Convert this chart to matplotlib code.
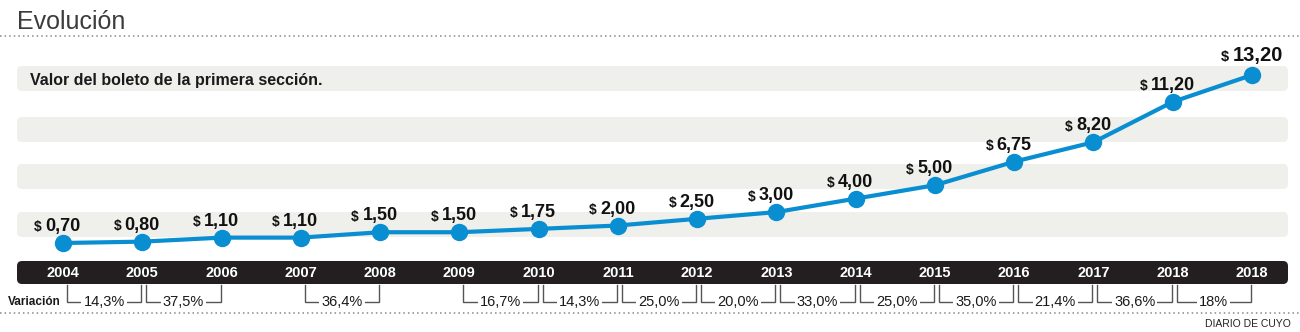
import matplotlib
matplotlib.use('Agg')
import matplotlib.pyplot as plt
from matplotlib.patches import FancyBboxPatch
from matplotlib.transforms import blended_transform_factory

# data
years = ['2004', '2005', '2006', '2007', '2008', '2009', '2010', '2011',
         '2012', '2013', '2014', '2015', '2016', '2017', '2018', '2018']
values = [0.70, 0.80, 1.10, 1.10, 1.50, 1.50, 1.75, 2.00,
          2.50, 3.00, 4.00, 5.00, 6.75, 8.20, 11.20, 13.20]
value_labels = ['0,70', '0,80', '1,10', '1,10', '1,50', '1,50', '1,75', '2,00',
                '2,50', '3,00', '4,00', '5,00', '6,75', '8,20', '11,20', '13,20']
# (from index, to index, label)
variations = [(0, 1, '14,3%'), (1, 2, '37,5%'), (3, 4, '36,4%'),
              (5, 6, '16,7%'), (6, 7, '14,3%'), (7, 8, '25,0%'),
              (8, 9, '20,0%'), (9, 10, '33,0%'), (10, 11, '25,0%'),
              (11, 12, '35,0%'), (12, 13, '21,4%'), (13, 14, '36,6%'),
              (14, 15, '18%')]

W, H = 1300, 332
BOLD = ['Liberation Sans', 'DejaVu Sans']
NARROW = ['Liberation Sans Narrow', 'Liberation Sans', 'DejaVu Sans']
BLUE = '#0a8ed2'
BAND = '#efefeb'
DARK = '#231f20'

fig = plt.figure(figsize=(W / 100, H / 100), dpi=100)

# background layer in pixel coordinates
bg = fig.add_axes([0, 0, 1, 1])
bg.set_xlim(0, W)
bg.set_ylim(H, 0)
bg.axis('off')

bg.text(17, 29, 'Evolución', fontsize=18, family=BOLD, color='#3c3c3c',
        va='baseline', ha='left')
bg.plot([0, W], [36, 36], color='#888888', lw=1.1, ls=(0, (1, 2)))
bg.plot([0, W], [313, 313], color='#888888', lw=1.1, ls=(0, (1, 2)))

for top in [66, 117, 164, 212]:
    bg.add_patch(FancyBboxPatch((19, top + 2), 1267, 21,
                                boxstyle='round,pad=2,rounding_size=5',
                                fc=BAND, ec='none'))
bg.text(30, 85, 'Valor del boleto de la primera sección.', fontsize=11.5,
        family=BOLD, weight='bold', color='#1a1a1a', va='baseline')

bg.add_patch(FancyBboxPatch((19, 263), 1267, 19,
                            boxstyle='round,pad=2,rounding_size=5',
                            fc=DARK, ec='none'))
bg.text(8, 302, 'Variación', fontsize=8.5, family=BOLD, weight='bold',
        color='#1a1a1a', va='center', ha='left')
bg.text(1291, 324, 'DIARIO DE CUYO', fontsize=7.5, family=NARROW,
        color='#222222', va='center', ha='right')

# data layer: index -> pixel x, value -> pixel y
step = (1252 - 63) / 15
px_per_unit = 13.44
y0 = 252.4
ax = fig.add_axes([0, 0, 1, 1])
ax.set_xlim(-63 / step, (W - 63) / step)
ax.set_ylim(-(H - y0) / px_per_unit, y0 / px_per_unit)
ax.axis('off')
ax.patch.set_alpha(0)

xs = list(range(len(values)))
ax.plot(xs, values, color=BLUE, lw=3, marker='o', ms=11.5,
        mfc=BLUE, mec=BLUE, solid_capstyle='round', zorder=3)

for i, (v, lab) in enumerate(zip(values, value_labels)):
    big = i == len(values) - 1
    t = ax.annotate(lab, (i, v), xytext=(4 if big else 0, 10 if big else 8.5),
                    textcoords='offset points', ha='center', va='baseline',
                    fontsize=14.5 if big else 13, family=BOLD, weight='bold',
                    color='#111111', zorder=4)
    ax.annotate('$', (0, 0), xycoords=t, xytext=(-2.5, 0.5),
                textcoords='offset points', ha='right', va='bottom',
                fontsize=10.5 if big else 10, family=BOLD, weight='bold',
                color='#111111')

tr = blended_transform_factory(ax.transData, bg.transData)
for i, y in enumerate(years):
    ax.text(i, 273, y, transform=tr, ha='center', va='center', fontsize=10.5,
            family=BOLD, weight='bold', color='white')

for a, b, lab in variations:
    x1 = a + 4 / step
    x2 = b - 1 / step
    ax.plot([x1, x1, x2, x2], [285, 302, 302, 285], transform=tr,
            color='#555555', lw=1, solid_joinstyle='miter')
    ax.text((x1 + x2) / 2, 302, lab, transform=tr, ha='center', va='center',
            fontsize=10.5, family=NARROW, color='#1a1a1a',
            bbox=dict(fc='white', ec='none', pad=1.5))

fig.savefig('out.png', dpi=100)
